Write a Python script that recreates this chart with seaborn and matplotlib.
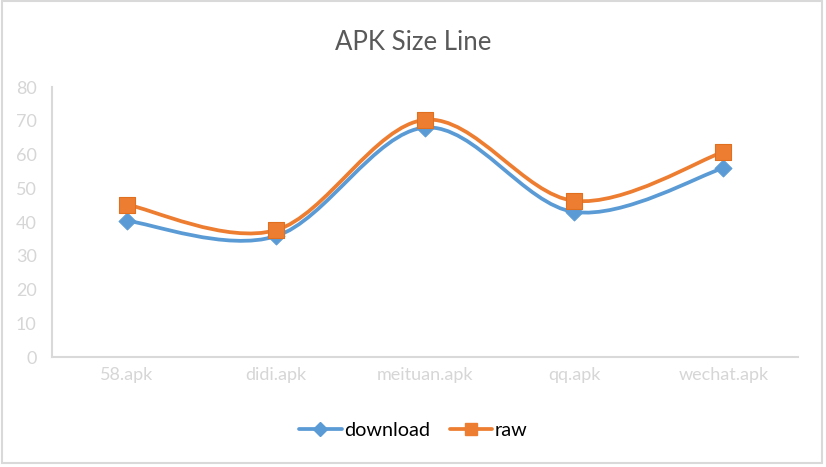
import numpy as np
import pandas as pd
import matplotlib
matplotlib.use('Agg')
import matplotlib.pyplot as plt
import seaborn as sns
from matplotlib.path import Path
from matplotlib.patches import PathPatch, Rectangle
from matplotlib.lines import Line2D

# values
apks = ['58.apk', 'didi.apk', 'meituan.apk', 'qq.apk', 'wechat.apk']
download = [40.4, 35.8, 68.0, 43.0, 56.0]
raw = [45.2, 37.6, 70.3, 46.3, 60.8]
y_ticks = [0, 10, 20, 30, 40, 50, 60, 70, 80]

BLUE = '#5B9BD5'
ORANGE = '#ED7D31'
GREY = '#D9D9D9'


def smooth_path(ys):
    """Excel-like smoothed line: cubic Bezier through each point."""
    pts = np.column_stack([np.arange(len(ys)), ys]).astype(float)
    n = len(pts)
    verts = [pts[0]]
    codes = [Path.MOVETO]
    for i in range(n - 1):
        p0 = pts[max(i - 1, 0)]
        p1 = pts[i]
        p2 = pts[i + 1]
        p3 = pts[min(i + 2, n - 1)]
        verts += [p1 + (p2 - p0) / 6, p2 - (p3 - p1) / 6, p2]
        codes += [Path.CURVE4] * 3
    return Path(verts, codes)


df = pd.DataFrame({'apk': apks, 'download': download, 'raw': raw})

sns.set_theme(style='white')
plt.rcParams['font.family'] = ['Lato', 'DejaVu Sans']

fig = plt.figure(figsize=(8.26, 4.67), dpi=100)
ax = fig.add_axes([0.063, 0.2355, 0.903, 0.578])

for col, color, zo in [('download', BLUE, 3), ('raw', ORANGE, 5)]:
    ax.add_patch(PathPatch(smooth_path(df[col].values), facecolor='none',
                           edgecolor=color, lw=2.7, zorder=zo,
                           capstyle='round', joinstyle='round'))

sns.scatterplot(data=df, x='apk', y='download', marker='D', s=75, color=BLUE,
                edgecolor=BLUE, ax=ax, zorder=4)
sns.scatterplot(data=df, x='apk', y='raw', marker='s', s=140, color=ORANGE,
                edgecolor='#E07020', linewidth=0.8, ax=ax, zorder=6)

ax.set_xlim(-0.5, len(apks) - 0.5)
ax.set_ylim(0, 80)
ax.set_yticks(y_ticks)
ax.set_xlabel('')
ax.set_ylabel('')
ax.tick_params(axis='both', length=0, colors='#D6D6D6', labelsize=13)
ax.tick_params(axis='y', pad=11)
ax.tick_params(axis='x', pad=7)
for s in ['top', 'right']:
    ax.spines[s].set_visible(False)
for s in ['left', 'bottom']:
    ax.spines[s].set_color(GREY)
    ax.spines[s].set_linewidth(1.5)

fig.text(0.5, 0.91, 'APK Size Line', ha='center', va='center',
         fontsize=18.5, color='#595959')

handles = [
    Line2D([], [], color=BLUE, lw=2.7, marker='D', markersize=7),
    Line2D([], [], color=ORANGE, lw=2.7, marker='s', markersize=9),
]
fig.legend(handles, ['download', 'raw'], loc='center', bbox_to_anchor=(0.5, 0.079),
           ncol=2, frameon=False, fontsize=14.3, handlelength=2.15,
           handletextpad=0.1, columnspacing=1.0, labelcolor='black')

fig.patches.append(Rectangle((1.5 / 826, 4 / 467), 820 / 826, 462 / 467,
                             transform=fig.transFigure, fill=False,
                             edgecolor=GREY, lw=1.5))

fig.savefig('out.png', dpi=100)
